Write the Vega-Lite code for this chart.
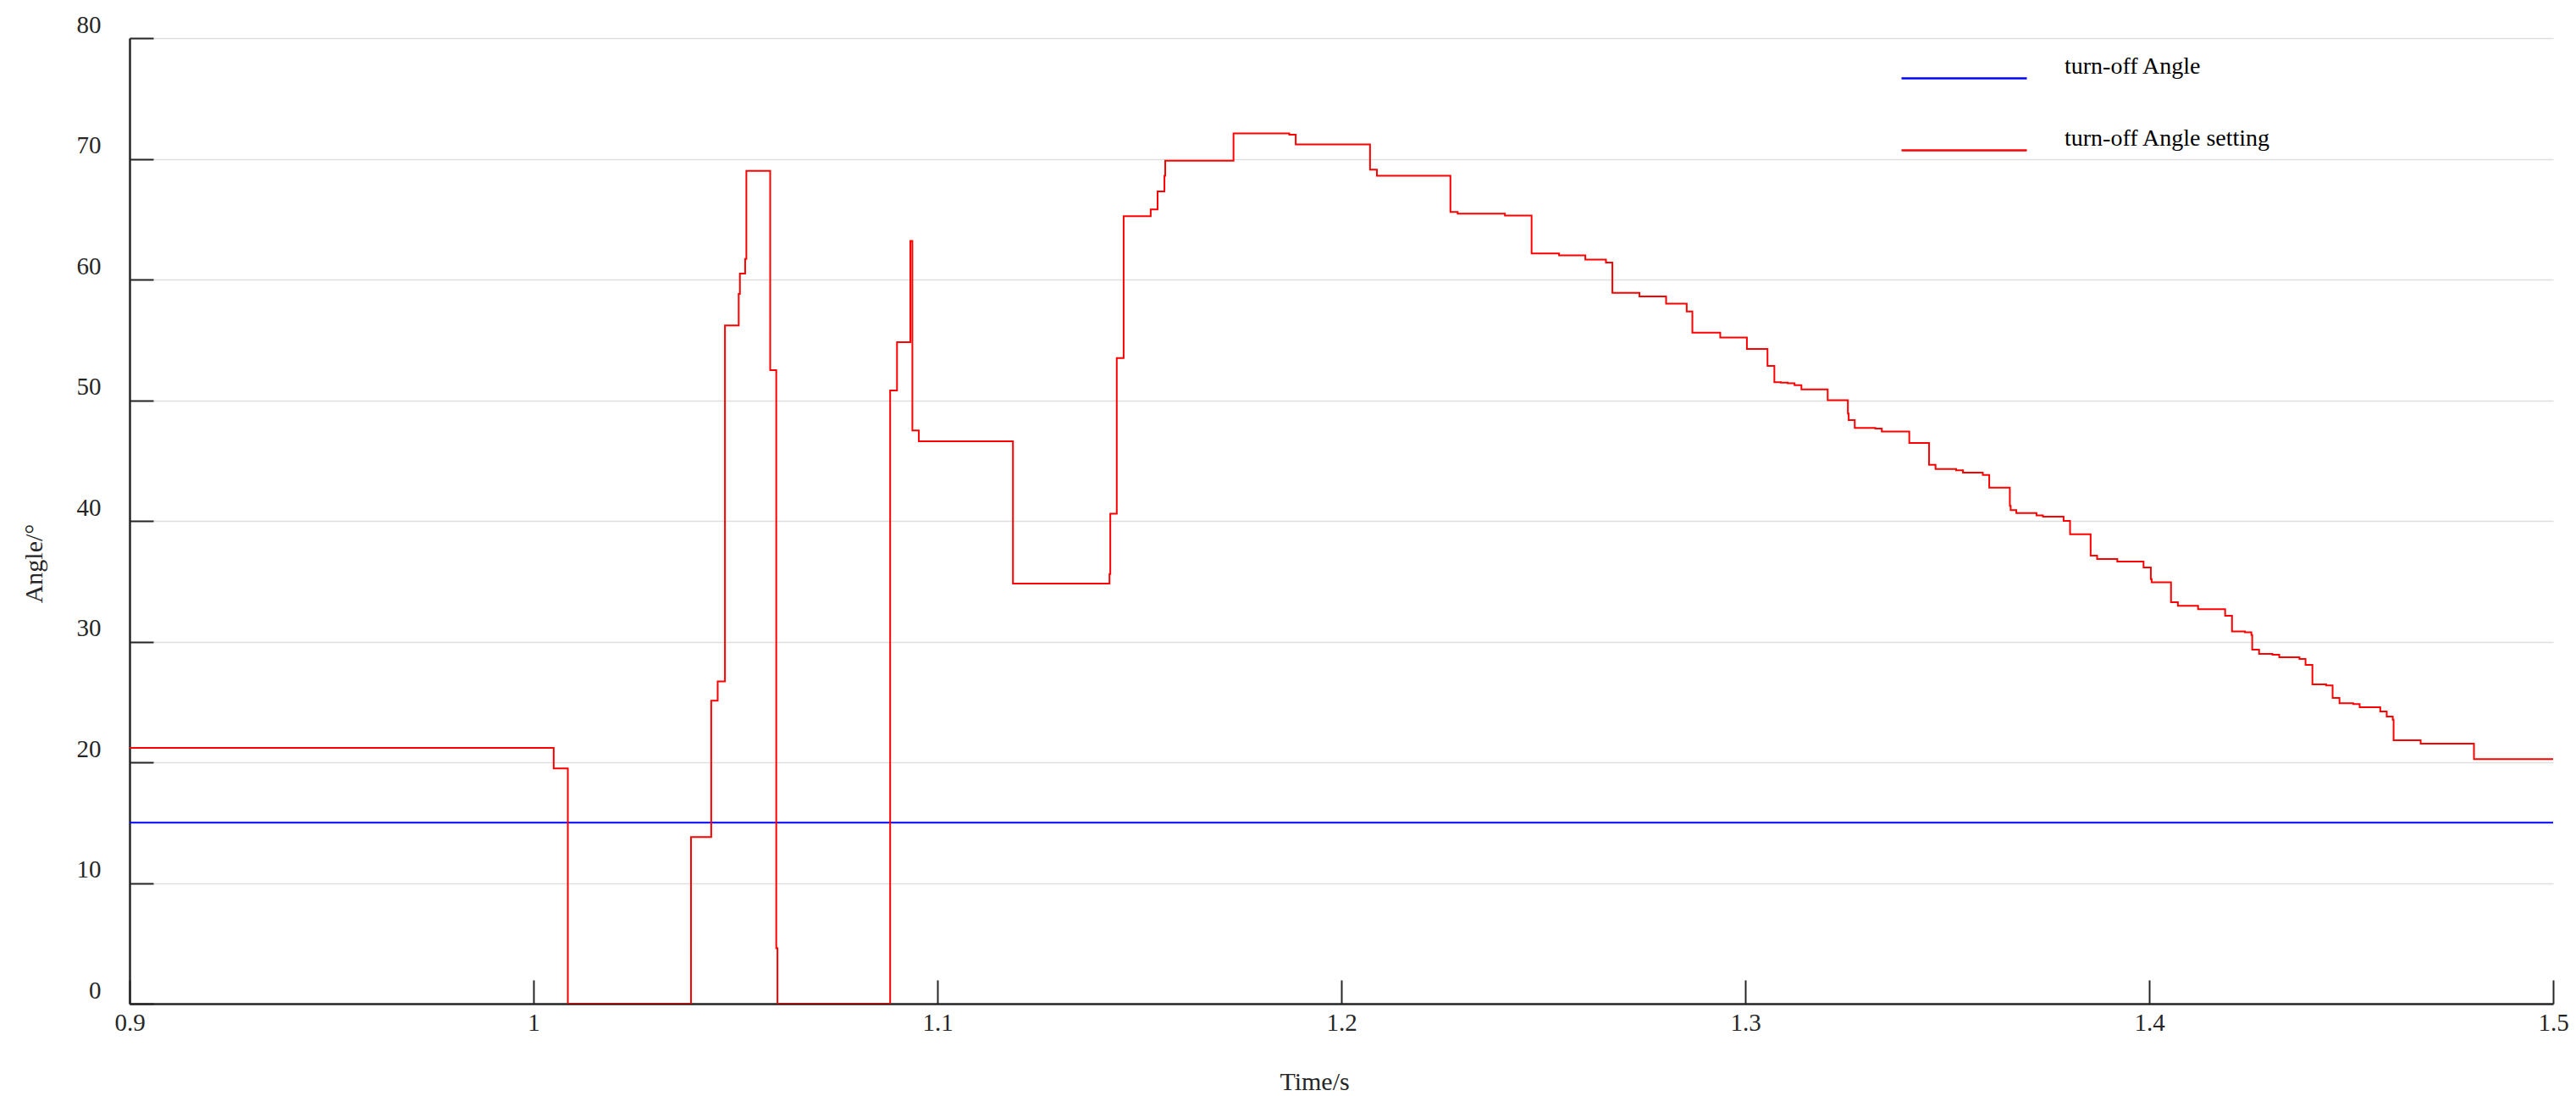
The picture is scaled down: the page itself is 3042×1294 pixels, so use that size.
{
  "$schema": "https://vega.github.io/schema/vega-lite/v6.json",
  "width": 2862,
  "height": 1140,
  "autosize": {"type": "none"},
  "padding": {"left": 153, "top": 45, "right": 27, "bottom": 109},
  "background": "white",
  "config": {
    "view": {"stroke": null},
    "font": "Liberation Serif"
  },
  "data": {
    "values": [
      {"t": 0.9, "v": 15, "s": "turn-off Angle"},
      {"t": 1.5, "v": 15, "s": "turn-off Angle"},
      {"t": 0.9, "v": 21.2, "s": "turn-off Angle setting"},
      {"t": 1.005, "v": 19.5, "s": "turn-off Angle setting"},
      {"t": 1.0085, "v": 0, "s": "turn-off Angle setting"},
      {"t": 1.039, "v": 13.8, "s": "turn-off Angle setting"},
      {"t": 1.044, "v": 25.1, "s": "turn-off Angle setting"},
      {"t": 1.0456, "v": 26.7, "s": "turn-off Angle setting"},
      {"t": 1.0474, "v": 56.2, "s": "turn-off Angle setting"},
      {"t": 1.0508, "v": 58.8, "s": "turn-off Angle setting"},
      {"t": 1.0511, "v": 60.5, "s": "turn-off Angle setting"},
      {"t": 1.0524, "v": 61.7, "s": "turn-off Angle setting"},
      {"t": 1.0527, "v": 69.0, "s": "turn-off Angle setting"},
      {"t": 1.0586, "v": 52.5, "s": "turn-off Angle setting"},
      {"t": 1.0601, "v": 4.6, "s": "turn-off Angle setting"},
      {"t": 1.0604, "v": 0, "s": "turn-off Angle setting"},
      {"t": 1.0883, "v": 50.8, "s": "turn-off Angle setting"},
      {"t": 1.09, "v": 54.8, "s": "turn-off Angle setting"},
      {"t": 1.0933, "v": 63.2, "s": "turn-off Angle setting"},
      {"t": 1.0938, "v": 47.5, "s": "turn-off Angle setting"},
      {"t": 1.0954, "v": 46.6, "s": "turn-off Angle setting"},
      {"t": 1.1187, "v": 34.8, "s": "turn-off Angle setting"},
      {"t": 1.1426, "v": 35.6, "s": "turn-off Angle setting"},
      {"t": 1.1428, "v": 40.6, "s": "turn-off Angle setting"},
      {"t": 1.1444, "v": 53.5, "s": "turn-off Angle setting"},
      {"t": 1.1461, "v": 65.25, "s": "turn-off Angle setting"},
      {"t": 1.1528, "v": 65.8, "s": "turn-off Angle setting"},
      {"t": 1.1545, "v": 67.3, "s": "turn-off Angle setting"},
      {"t": 1.1562, "v": 68.6, "s": "turn-off Angle setting"},
      {"t": 1.1564, "v": 69.85, "s": "turn-off Angle setting"},
      {"t": 1.1733, "v": 72.1, "s": "turn-off Angle setting"},
      {"t": 1.1871, "v": 72.0, "s": "turn-off Angle setting"},
      {"t": 1.1887, "v": 71.2, "s": "turn-off Angle setting"},
      {"t": 1.2071, "v": 69.1, "s": "turn-off Angle setting"},
      {"t": 1.2088, "v": 68.6, "s": "turn-off Angle setting"},
      {"t": 1.227, "v": 65.6, "s": "turn-off Angle setting"},
      {"t": 1.2288, "v": 65.45, "s": "turn-off Angle setting"},
      {"t": 1.2405, "v": 65.3, "s": "turn-off Angle setting"},
      {"t": 1.2471, "v": 62.15, "s": "turn-off Angle setting"},
      {"t": 1.2539, "v": 62.0, "s": "turn-off Angle setting"},
      {"t": 1.2604, "v": 61.65, "s": "turn-off Angle setting"},
      {"t": 1.2655, "v": 61.4, "s": "turn-off Angle setting"},
      {"t": 1.2671, "v": 58.9, "s": "turn-off Angle setting"},
      {"t": 1.2738, "v": 58.6, "s": "turn-off Angle setting"},
      {"t": 1.2804, "v": 58.0, "s": "turn-off Angle setting"},
      {"t": 1.2855, "v": 57.35, "s": "turn-off Angle setting"},
      {"t": 1.2869, "v": 55.6, "s": "turn-off Angle setting"},
      {"t": 1.2938, "v": 55.2, "s": "turn-off Angle setting"},
      {"t": 1.3004, "v": 54.25, "s": "turn-off Angle setting"},
      {"t": 1.3055, "v": 52.85, "s": "turn-off Angle setting"},
      {"t": 1.3072, "v": 51.5, "s": "turn-off Angle setting"},
      {"t": 1.3088, "v": 51.45, "s": "turn-off Angle setting"},
      {"t": 1.3105, "v": 51.4, "s": "turn-off Angle setting"},
      {"t": 1.3122, "v": 51.25, "s": "turn-off Angle setting"},
      {"t": 1.3139, "v": 50.9, "s": "turn-off Angle setting"},
      {"t": 1.3204, "v": 50.0, "s": "turn-off Angle setting"},
      {"t": 1.3254, "v": 48.9, "s": "turn-off Angle setting"},
      {"t": 1.3256, "v": 48.35, "s": "turn-off Angle setting"},
      {"t": 1.3271, "v": 47.7, "s": "turn-off Angle setting"},
      {"t": 1.3322, "v": 47.65, "s": "turn-off Angle setting"},
      {"t": 1.3338, "v": 47.4, "s": "turn-off Angle setting"},
      {"t": 1.3406, "v": 46.45, "s": "turn-off Angle setting"},
      {"t": 1.3455, "v": 44.65, "s": "turn-off Angle setting"},
      {"t": 1.3471, "v": 44.3, "s": "turn-off Angle setting"},
      {"t": 1.3522, "v": 44.2, "s": "turn-off Angle setting"},
      {"t": 1.3539, "v": 44.0, "s": "turn-off Angle setting"},
      {"t": 1.3588, "v": 43.8, "s": "turn-off Angle setting"},
      {"t": 1.3604, "v": 42.75, "s": "turn-off Angle setting"},
      {"t": 1.3655, "v": 41.25, "s": "turn-off Angle setting"},
      {"t": 1.3657, "v": 40.9, "s": "turn-off Angle setting"},
      {"t": 1.3671, "v": 40.65, "s": "turn-off Angle setting"},
      {"t": 1.3721, "v": 40.45, "s": "turn-off Angle setting"},
      {"t": 1.3737, "v": 40.35, "s": "turn-off Angle setting"},
      {"t": 1.3788, "v": 40.0, "s": "turn-off Angle setting"},
      {"t": 1.3804, "v": 38.9, "s": "turn-off Angle setting"},
      {"t": 1.3855, "v": 37.13, "s": "turn-off Angle setting"},
      {"t": 1.3871, "v": 36.85, "s": "turn-off Angle setting"},
      {"t": 1.3921, "v": 36.63, "s": "turn-off Angle setting"},
      {"t": 1.3986, "v": 36.14, "s": "turn-off Angle setting"},
      {"t": 1.4004, "v": 35.18, "s": "turn-off Angle setting"},
      {"t": 1.4006, "v": 34.92, "s": "turn-off Angle setting"},
      {"t": 1.4054, "v": 33.26, "s": "turn-off Angle setting"},
      {"t": 1.4071, "v": 32.96, "s": "turn-off Angle setting"},
      {"t": 1.4121, "v": 32.68, "s": "turn-off Angle setting"},
      {"t": 1.4188, "v": 32.14, "s": "turn-off Angle setting"},
      {"t": 1.4205, "v": 30.85, "s": "turn-off Angle setting"},
      {"t": 1.4237, "v": 30.78, "s": "turn-off Angle setting"},
      {"t": 1.4253, "v": 30.55, "s": "turn-off Angle setting"},
      {"t": 1.4255, "v": 29.33, "s": "turn-off Angle setting"},
      {"t": 1.4272, "v": 28.98, "s": "turn-off Angle setting"},
      {"t": 1.4305, "v": 28.91, "s": "turn-off Angle setting"},
      {"t": 1.4322, "v": 28.7, "s": "turn-off Angle setting"},
      {"t": 1.4372, "v": 28.56, "s": "turn-off Angle setting"},
      {"t": 1.4387, "v": 28.07, "s": "turn-off Angle setting"},
      {"t": 1.4404, "v": 26.46, "s": "turn-off Angle setting"},
      {"t": 1.4438, "v": 26.36, "s": "turn-off Angle setting"},
      {"t": 1.4454, "v": 25.33, "s": "turn-off Angle setting"},
      {"t": 1.4471, "v": 24.89, "s": "turn-off Angle setting"},
      {"t": 1.4505, "v": 24.82, "s": "turn-off Angle setting"},
      {"t": 1.4521, "v": 24.56, "s": "turn-off Angle setting"},
      {"t": 1.4572, "v": 24.21, "s": "turn-off Angle setting"},
      {"t": 1.4588, "v": 23.79, "s": "turn-off Angle setting"},
      {"t": 1.4603, "v": 23.53, "s": "turn-off Angle setting"},
      {"t": 1.4605, "v": 21.82, "s": "turn-off Angle setting"},
      {"t": 1.4672, "v": 21.54, "s": "turn-off Angle setting"},
      {"t": 1.4804, "v": 20.26, "s": "turn-off Angle setting"},
      {"t": 1.5, "v": 20.26, "s": "turn-off Angle setting"}
    ]
  },
  "mark": {"type": "line", "interpolate": "step-after", "strokeWidth": 2, "clip": true},
  "encoding": {
    "x": {
      "field": "t",
      "type": "quantitative",
      "scale": {"domain": [0.9, 1.5], "nice": false, "zero": false},
      "axis": {
        "title": "Time/s",
        "values": [0.9, 1.0, 1.1, 1.2, 1.3, 1.4, 1.5],
        "format": "~g",
        "grid": false,
        "domainColor": "#262626",
        "domainWidth": 2.5,
        "tickColor": "#262626",
        "tickWidth": 2,
        "tickSize": -28,
        "labelPadding": 36,
        "labelFont": "Liberation Serif",
        "labelFontSize": 29,
        "labelColor": "#262626",
        "labelFlush": false,
        "titleFont": "Liberation Serif",
        "titleFontSize": 30,
        "titleFontWeight": "normal",
        "titleColor": "#262626",
        "titleX": 1399,
        "titleY": 92,
        "titleBaseline": "middle",
        "titleAlign": "center"
      }
    },
    "y": {
      "field": "v",
      "type": "quantitative",
      "scale": {"domain": [0, 80], "nice": false},
      "axis": {
        "title": "Angle/°",
        "values": [0, 10, 20, 30, 40, 50, 60, 70, 80],
        "grid": true,
        "gridColor": "#dedede",
        "gridWidth": 1.5,
        "domainColor": "#262626",
        "domainWidth": 2.5,
        "tickColor": "#262626",
        "tickWidth": 2,
        "tickSize": -28,
        "labelPadding": 62,
        "labelOffset": -16,
        "labelFont": "Liberation Serif",
        "labelFontSize": 29,
        "labelColor": "#262626",
        "labelFlush": false,
        "titleFont": "Liberation Serif",
        "titleFontSize": 30,
        "titleFontWeight": "normal",
        "titleColor": "#262626",
        "titleX": -113,
        "titleY": 620,
        "titleAngle": -90,
        "titleBaseline": "middle",
        "titleAlign": "center"
      }
    },
    "color": {
      "field": "s",
      "type": "nominal",
      "scale": {"domain": ["turn-off Angle", "turn-off Angle setting"], "range": ["#0000ff", "#ff0000"]},
      "legend": {
        "title": null,
        "orient": "none",
        "legendX": 2125,
        "legendY": 6,
        "padding": 0,
        "rowPadding": 38,
        "symbolType": "M-1.85,0L1.85,0",
        "symbolSize": 6400,
        "symbolStrokeWidth": 2.5,
        "labelFont": "Liberation Serif",
        "labelFontSize": 28,
        "labelColor": "#000000",
        "labelOffset": 77,
        "labelBaseline": "bottom",
        "labelLimit": 600
      }
    }
  }
}
